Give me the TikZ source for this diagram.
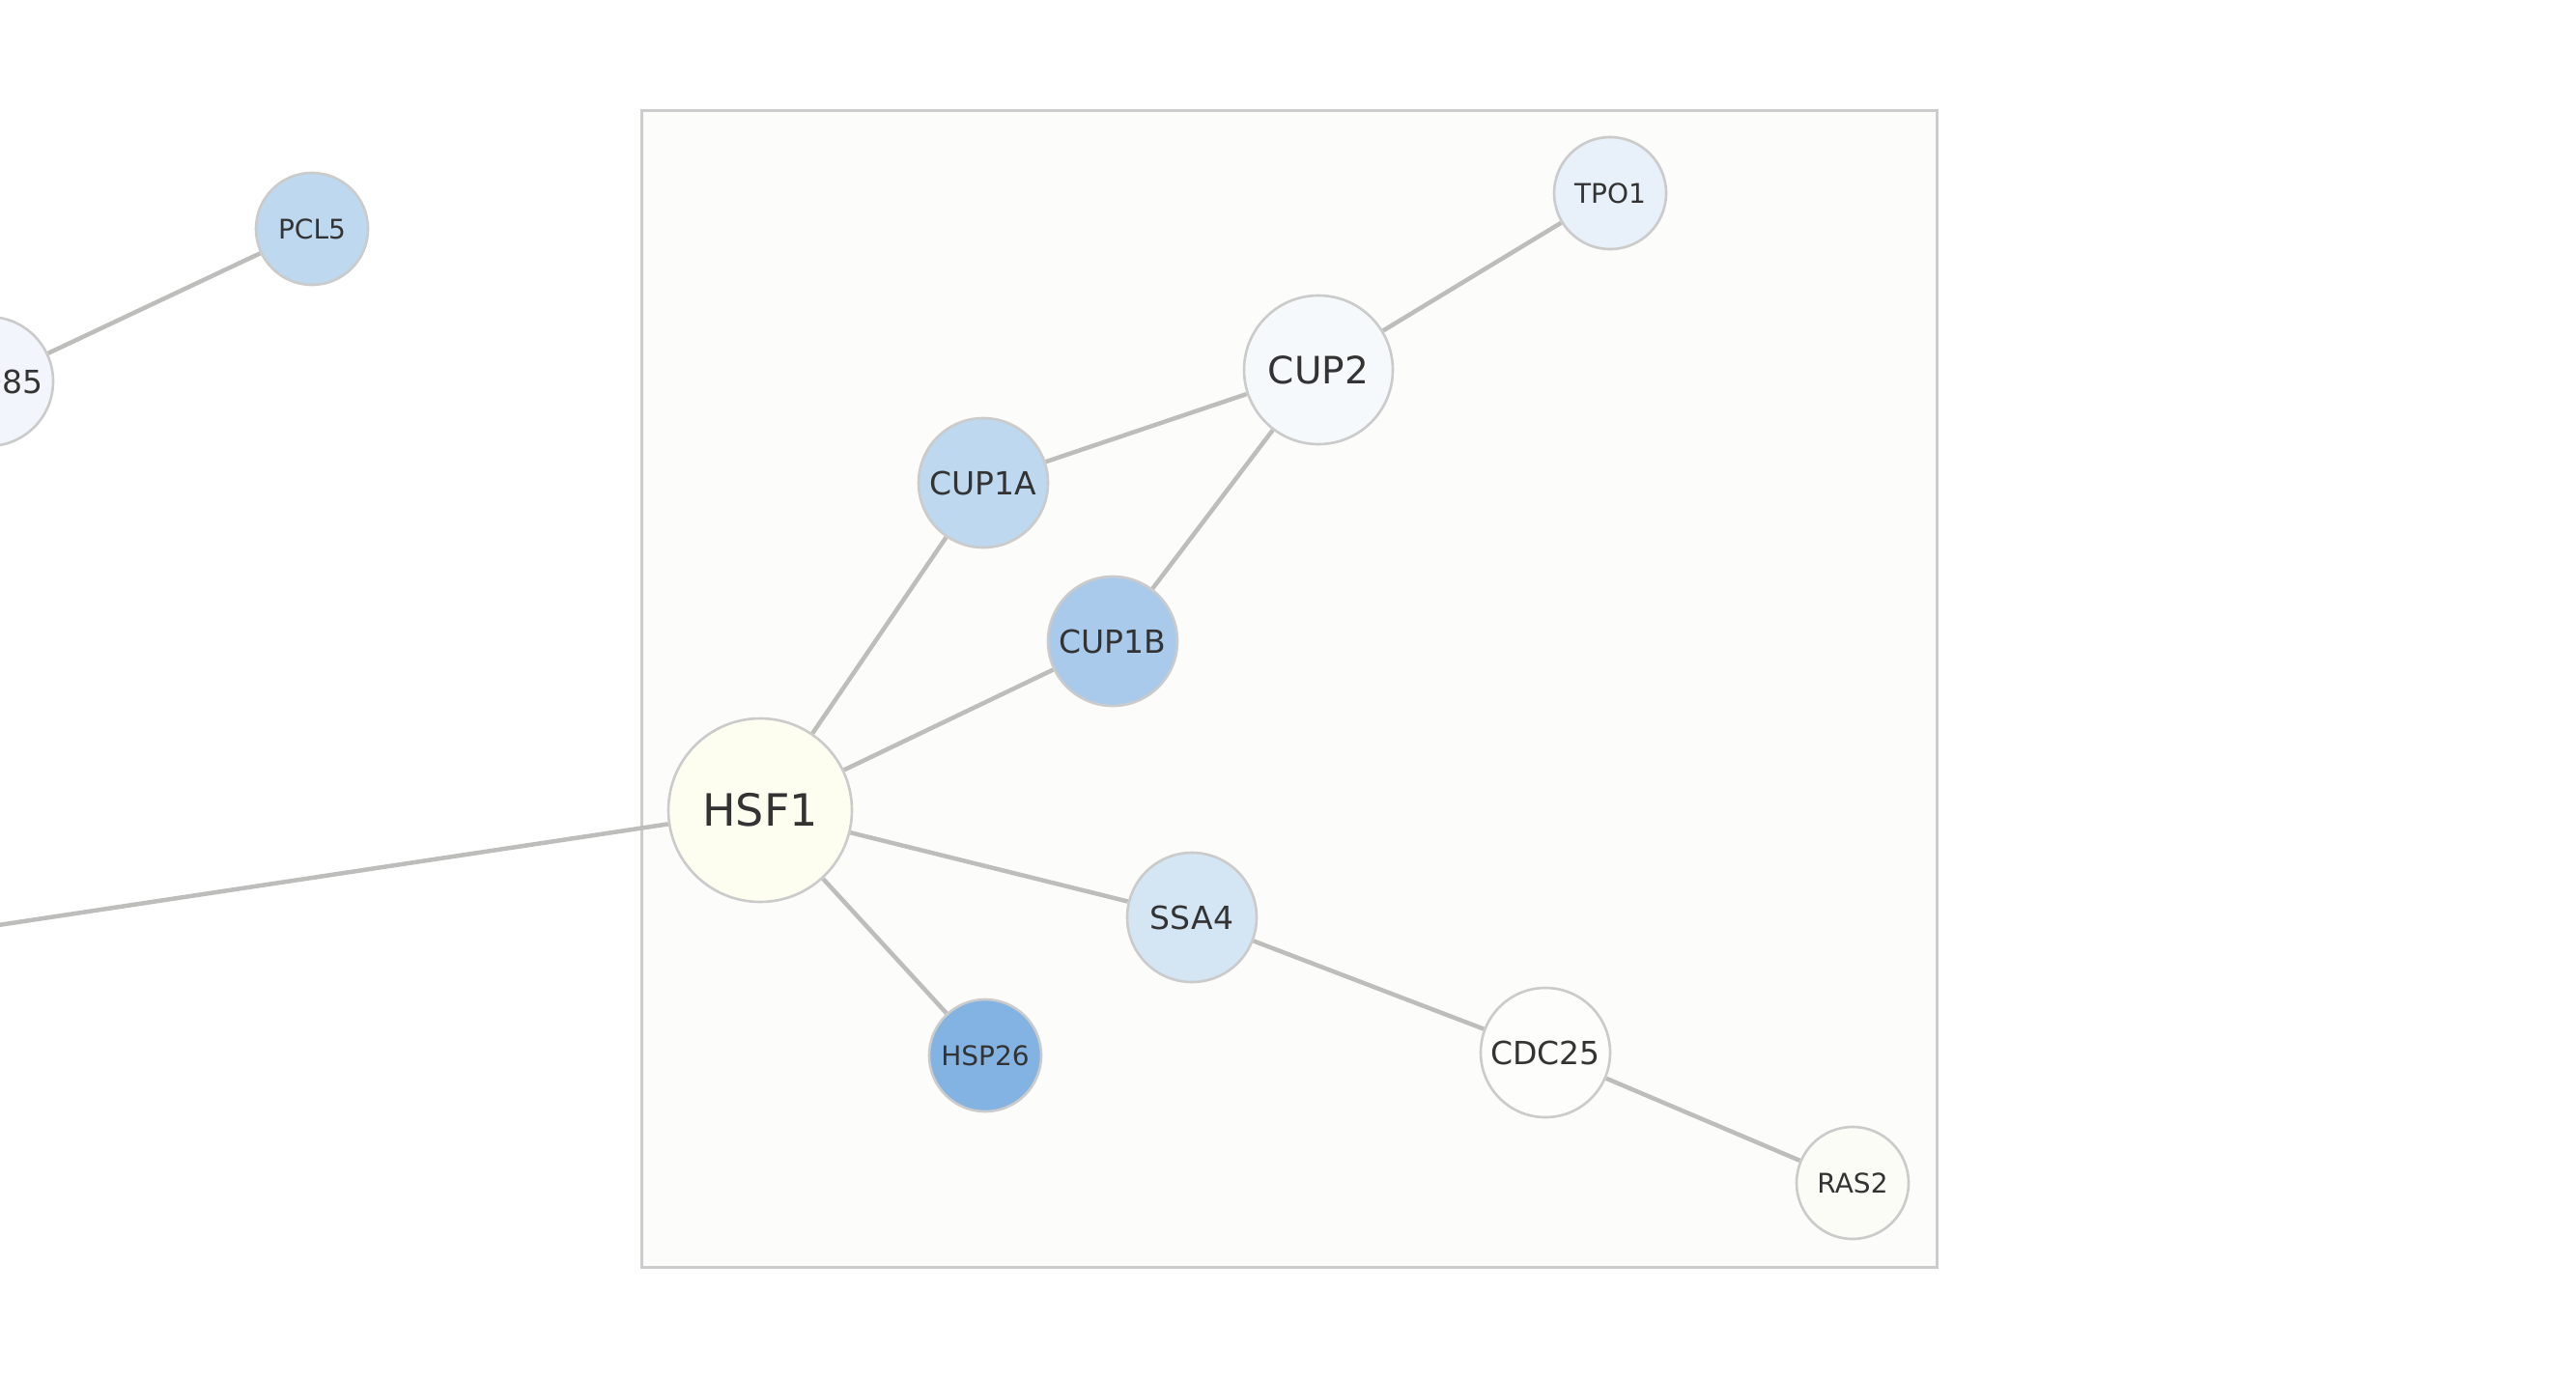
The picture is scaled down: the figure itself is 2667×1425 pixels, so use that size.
\documentclass[tikz,border=0pt]{standalone}
\usepackage{fontspec}
\setmainfont{DejaVu Sans}
\definecolor{edgec}{HTML}{BDBEBC}
\definecolor{ringc}{HTML}{CACBCA}
\definecolor{txtc}{HTML}{333333}
\definecolor{framefill}{HTML}{FCFDFA}
\definecolor{framec}{HTML}{CCCCCC}
\definecolor{cpho}{HTML}{F2F6FC}
\definecolor{cpcl}{HTML}{BDD8EF}
\definecolor{ccuptwo}{HTML}{F5F9FC}
\definecolor{ctpo}{HTML}{E8F0F9}
\definecolor{ccupa}{HTML}{BDD8EF}
\definecolor{ccupb}{HTML}{A9CAEB}
\definecolor{chsf}{HTML}{FDFEF0}
\definecolor{cssa}{HTML}{D4E5F4}
\definecolor{chsp}{HTML}{82B3E3}
\definecolor{ccdc}{HTML}{FDFEFC}
\definecolor{cras}{HTML}{FBFCF5}
\pgfdeclarelayer{framelayer}
\pgfdeclarelayer{edgelayer}
\pgfsetlayers{framelayer,edgelayer,main}
\tikzset{
  gene/.style={circle, draw=ringc, line width=2.6pt, inner sep=0pt, text=txtc},
  big/.style={gene, minimum size=190pt, font=\fontsize{46}{50}\selectfont},
  mid/.style={gene, minimum size=154pt, font=\fontsize{39}{44}\selectfont},
  med/.style={gene, minimum size=134pt, font=\fontsize{33}{38}\selectfont},
  sml/.style={gene, minimum size=116pt, font=\fontsize{28}{32}\selectfont},
  link/.style={draw=edgec, line width=4.5pt},
}
\begin{document}
\begin{tikzpicture}[x=1pt,y=-1pt]
\useasboundingbox (0,0) rectangle (2667,1425);

\node[med, fill=cpho] (pho85) at (-12,395) {PHO85};
\node[sml, fill=cpcl] (pcl5) at (323,237) {PCL5};
\node[mid, fill=ccuptwo] (cup2) at (1365,383) {CUP2};
\node[sml, fill=ctpo] (tpo1) at (1667,200) {TPO1};
\node[med, fill=ccupa] (cup1a) at (1018,500) {CUP1A};
\node[med, fill=ccupb] (cup1b) at (1152,664) {CUP1B};
\node[big, fill=chsf] (hsf1) at (787,839) {HSF1};
\node[med, fill=cssa] (ssa4) at (1234,950) {SSA4};
\node[sml, fill=chsp] (hsp26) at (1020,1093) {HSP26};
\node[med, fill=ccdc] (cdc25) at (1600,1090) {CDC25};
\node[sml, fill=cras] (ras2) at (1918,1225) {RAS2};
\coordinate (offleft) at (-300,1003);

\begin{pgfonlayer}{framelayer}
  \fill[white] (0,0) rectangle (2667,1425);
  \node[draw=framec, fill=framefill, line width=2.6pt, inner sep=0pt,
        minimum width=1341pt, minimum height=1198pt, anchor=north west] (frame) at (663,113) {};
\end{pgfonlayer}

\begin{pgfonlayer}{edgelayer}
  \draw[link] (pho85) -- (pcl5);
  \draw[link] (hsf1) -- (offleft);
  \draw[link] (hsf1) -- (cup1a);
  \draw[link] (hsf1) -- (cup1b);
  \draw[link] (hsf1) -- (ssa4);
  \draw[link] (hsf1) -- (hsp26);
  \draw[link] (cup1a) -- (cup2);
  \draw[link] (cup1b) -- (cup2);
  \draw[link] (cup2) -- (tpo1);
  \draw[link] (ssa4) -- (cdc25);
  \draw[link] (cdc25) -- (ras2);
\end{pgfonlayer}
\end{tikzpicture}
\end{document}
